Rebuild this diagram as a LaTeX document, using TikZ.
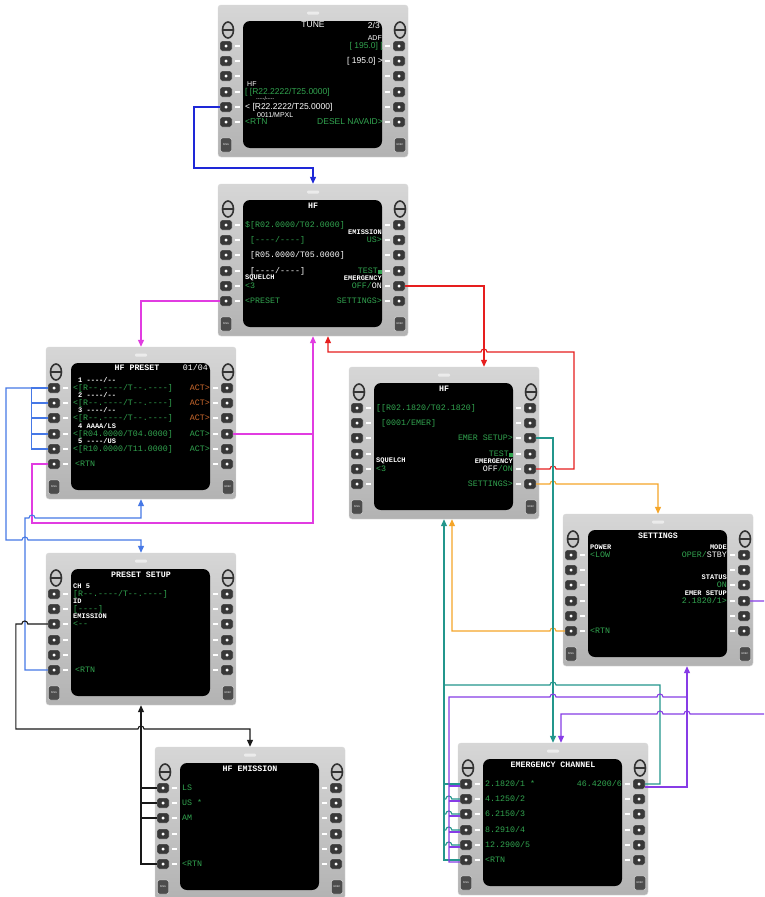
\documentclass[tikz,border=0pt]{standalone}
\usepackage{fontspec}
\newfontfamily\cdufont[Ligatures=TeXOff]{Liberation Mono}
\newfontfamily\tunefont[Ligatures=TeXOff]{Liberation Sans}
\usetikzlibrary{positioning, calc, arrows.meta}
\definecolor{scrgreen}{RGB}{50,165,80}
\definecolor{scrorange}{RGB}{205,105,45}
\definecolor{lnblue}{RGB}{30,40,215}
\definecolor{lnmag}{RGB}{225,60,225}
\definecolor{lnred}{RGB}{230,30,30}
\definecolor{lncorn}{RGB}{70,120,230}
\definecolor{lnblack}{RGB}{25,25,25}
\definecolor{lnorange}{RGB}{245,165,40}
\definecolor{lnteal}{RGB}{35,150,140}
\definecolor{lnpurple}{RGB}{135,60,230}
\tikzset{panel/.style={rectangle, rounded corners=3pt, minimum width=190pt, minimum height=152pt, inner sep=0, top color=gray!32, bottom color=gray!60, draw=gray!30}}
\tikzset{screen/.style={rectangle, rounded corners=7pt, minimum width=139pt, minimum height=127pt, inner sep=0, fill=black}}
\tikzset{lsk/.style={rectangle, rounded corners=2pt, minimum width=12pt, minimum height=10pt, inner sep=0, fill=black!78, draw=gray!20, path picture={\fill[white] ([xshift=-1.5pt,yshift=-1.5pt]path picture bounding box.center) rectangle ++(3pt,3pt);}}}
\tikzset{fkey/.style={rectangle, rounded corners=2pt, minimum width=11pt, minimum height=14pt, inner sep=0, fill=black!70, draw=gray!20, text=white, font=\sffamily\fontsize{2.6}{3}\selectfont}}
\tikzset{knob/.style={draw=black!80, fill=gray!45, line width=1.6pt}}
\tikzset{tick/.style={white, line width=1.2pt}}
\tikzset{dat/.style={inner sep=0, text=white, font=\cdufont\fontsize{8.3}{9}\selectfont}}
\tikzset{ttl/.style={dat, font=\cdufont\bfseries\fontsize{8.3}{9}\selectfont}}
\tikzset{lbl/.style={inner sep=0, text=white, font=\cdufont\bfseries\fontsize{7}{8}\selectfont}}
\tikzset{tdat/.style={inner sep=0, text=white, font=\tunefont\fontsize{8.5}{10}\selectfont}}
\tikzset{tlbl/.style={inner sep=0, text=white, font=\tunefont\fontsize{7}{8}\selectfont}}
\tikzset{gr/.style={text=scrgreen}, lt/.style={anchor=west}, rt/.style={anchor=east}}
\tikzset{wire/.style={line width=1.1pt}}
\tikzset{conn/.style={wire, -{Triangle[length=7pt, width=6pt]}}}
\tikzset{hopr/.style={insert path={arc[start angle=180, end angle=0, radius=3pt]}}}
\tikzset{hopl/.style={insert path={arc[start angle=0, end angle=180, radius=3pt]}}}
% one control display unit, origin at its top left corner
\tikzset{cdu/.pic={
	\node[panel] (-box) at (95,76) {};
	\fill[white, opacity=.55, rounded corners=1pt] (89,6.5) rectangle (101,9.5);
	\foreach \kx in {10,182} {\draw[knob] (\kx,25) ellipse [x radius=5.5pt, y radius=8pt] (\kx-5.5,25) -- (\kx+5.5,25);}
	\node[screen] (-scr) at (94.5,79.5) {};
	\foreach \r [count=\i] in {41,56,71,87,102,117} {
		\node[lsk] (-L\i) at (8,\r) {};
		\node[lsk] (-R\i) at (181,\r) {};
		\draw[tick] (17,\r) -- (22,\r) (167,\r) -- (172,\r);
	}
	\node[fkey] (-msg) at (8,140) {MSG};
	\node[fkey] (-exec) at (182,140) {EXEC};
}}

\begin{document}
\begin{tikzpicture}[x=1pt, y=-1pt]
	\useasboundingbox (0,0) rectangle (764,897);
	\clip (0,0) rectangle (764,897);
	\fill[white] (0,0) rectangle (764,897);
%
	\begin{scope}[shift={(218,5)}]
		\pic (tune) {cdu};
		\node[tdat] (tu1) at (95,20) {TUNE};
		\node[tdat, rt] (tu2) at (162,20) {2/3};
		\node[tlbl, rt] (tu3) at (164,33) {ADF};
		\node[tdat, rt, gr] (tu4) at (165,41) {[ 195.0] [};
		\node[tdat, rt] (tu5) at (165,56) {[ 195.0] >};
		\node[tlbl, lt] (tu6) at (29,79) {HF};
		\node[tdat, lt, gr] (tu7) at (27,87) {[ [R22.2222/T25.0000]};
		\node[tlbl, lt, font=\tunefont\fontsize{5}{6}\selectfont] (tu8) at (38,94) {-----/-----};
		\node[tdat, lt] (tu9) at (27,102) {< [R22.2222/T25.0000]};
		\node[tlbl, lt] (tu10) at (39,110) {0011/MPXL};
		\node[tdat, lt, gr] (tu11) at (27,117) {<RTN};
		\node[tdat, rt, gr] (tu12) at (165,117) {DESEL NAVAID>};
	\end{scope}
%
	\begin{scope}[shift={(218,184)}]
		\pic (hfmain) {cdu};
		\node[ttl] (hf1) at (95,22) {HF};
		\node[dat, lt, gr] (hf2) at (27,41) {\$[R02.0000/T02.0000]};
		\node[lbl, rt] (hf3) at (164,48) {EMISSION};
		\node[dat, lt, gr] (hf4) at (32,56) {[----/----]};
		\node[dat, rt, gr] (hf5) at (164,56) {US>};
		\node[dat, lt] (hf6) at (32,71) {[R05.0000/T05.0000]};
		\node[dat, lt] (hf7) at (32,87) {[----/----]};
		\node[dat, rt, gr] (hf8) at (164,87) {TEST\rule{4pt}{4pt}};
		\node[lbl, lt] (hf9) at (27,94) {SQUELCH};
		\node[dat, lt, gr] (hf10) at (27,102) {<3};
		\node[lbl, rt] (hf11) at (164,94) {EMERGENCY};
		\node[dat, rt] (hf12) at (164,102) {\textcolor{scrgreen}{OFF/}ON};
		\node[dat, lt, gr] (hf13) at (27,117) {<PRESET};
		\node[dat, rt, gr] (hf14) at (164,117) {SETTINGS>};
	\end{scope}
%
	\begin{scope}[shift={(46,347)}]
		\pic (hfpreset) {cdu};
		\node[ttl] (pr1) at (91,21) {HF PRESET};
		\node[dat, rt] (pr2) at (162,21) {01/04};
		\node[lbl, lt] (pr3) at (32,33) {1 ----/--};
		\node[dat, lt, gr] (pr4) at (27,41) {<[R--.----/T--.----]};
		\node[dat, rt, text=scrorange] (pr5) at (164,41) {ACT>};
		\node[lbl, lt] (pr6) at (32,48) {2 ----/--};
		\node[dat, lt, gr] (pr7) at (27,56) {<[R--.----/T--.----]};
		\node[dat, rt, text=scrorange] (pr8) at (164,56) {ACT>};
		\node[lbl, lt] (pr9) at (32,63) {3 ----/--};
		\node[dat, lt, gr] (pr10) at (27,71) {<[R--.----/T--.----]};
		\node[dat, rt, text=scrorange] (pr11) at (164,71) {ACT>};
		\node[lbl, lt] (pr12) at (32,79) {4 AAAA/LS};
		\node[dat, lt, gr] (pr13) at (27,87) {<[R04.0000/T04.0000]};
		\node[dat, rt, gr] (pr14) at (164,87) {ACT>};
		\node[lbl, lt] (pr15) at (32,94) {5 ----/US};
		\node[dat, lt, gr] (pr16) at (27,102) {<[R10.0000/T11.0000]};
		\node[dat, rt, gr] (pr17) at (164,102) {ACT>};
		\node[dat, lt, gr] (pr18) at (29,117) {<RTN};
	\end{scope}
%
	\begin{scope}[shift={(349,367)}]
		\pic (hfemer) {cdu};
		\node[ttl] (he1) at (95,22) {HF};
		\node[dat, lt, gr] (he2) at (27,41) {[[R02.1820/T02.1820]};
		\node[dat, lt, gr] (he3) at (32,56) {[0001/EMER]};
		\node[dat, rt, gr] (he4) at (164,71) {EMER SETUP>};
		\node[dat, rt, gr] (he5) at (164,87) {TEST\rule{4pt}{4pt}};
		\node[lbl, lt] (he6) at (27,94) {SQUELCH};
		\node[dat, lt, gr] (he7) at (27,102) {<3};
		\node[lbl, rt] (he8) at (164,94) {EMERGENCY};
		\node[dat, rt, gr] (he9) at (164,102) {\textcolor{white}{OFF}/ON};
		\node[dat, rt, gr] (he10) at (164,117) {SETTINGS>};
	\end{scope}
%
	\begin{scope}[shift={(46,553)}]
		\pic (presetsetup) {cdu};
		\node[ttl] (ps1) at (95,22) {PRESET SETUP};
		\node[lbl, lt] (ps2) at (27,33) {CH 5};
		\node[dat, lt, gr] (ps3) at (27,41) {[R--.----/T--.----]};
		\node[lbl, lt] (ps4) at (27,48) {ID};
		\node[dat, lt, gr] (ps5) at (27,56) {[----]};
		\node[lbl, lt] (ps6) at (27,63) {EMISSION};
		\node[dat, lt, gr] (ps7) at (27,71) {<--};
		\node[dat, lt, gr] (ps8) at (29,117) {<RTN};
	\end{scope}
%
	\begin{scope}[shift={(563,514)}]
		\pic (settings) {cdu};
		\node[ttl] (se1) at (95,22) {SETTINGS};
		\node[lbl, lt] (se2) at (27,33) {POWER};
		\node[dat, lt, gr] (se3) at (27,41) {<LOW};
		\node[lbl, rt] (se4) at (164,33) {MODE};
		\node[dat, rt, gr] (se5) at (164,41) {OPER/\textcolor{white}{STBY}};
		\node[lbl, rt] (se6) at (164,63) {STATUS};
		\node[dat, rt, gr] (se7) at (164,71) {ON};
		\node[lbl, rt] (se8) at (164,79) {EMER SETUP};
		\node[dat, rt, gr] (se9) at (164,87) {2.1820/1>};
		\node[dat, lt, gr] (se10) at (27,117) {<RTN};
	\end{scope}
%
	\begin{scope}[shift={(155,747)}]
		\pic (hfemission) {cdu};
		\node[ttl] (em1) at (95,22) {HF EMISSION};
		\node[dat, lt, gr] (em2) at (27,41) {LS};
		\node[dat, lt, gr] (em3) at (27,56) {US *};
		\node[dat, lt, gr] (em4) at (27,71) {AM};
		\node[dat, lt, gr] (em5) at (27,117) {<RTN};
	\end{scope}
%
	\begin{scope}[shift={(458,743)}]
		\pic (emerch) {cdu};
		\node[ttl] (ec1) at (95,22) {EMERGENCY CHANNEL};
		\node[dat, lt, gr] (ec2) at (27,41) {2.1820/1 *};
		\node[dat, lt, gr] (ec3) at (27,56) {4.1250/2};
		\node[dat, lt, gr] (ec4) at (27,71) {6.2150/3};
		\node[dat, lt, gr] (ec5) at (27,87) {8.2910/4};
		\node[dat, lt, gr] (ec6) at (27,102) {12.2900/5};
		\node[dat, lt, gr] (ec7) at (27,117) {<RTN};
		\node[dat, rt, gr] (ec8) at (164,41) {46.4200/6};
	\end{scope}
%
	% page links
	\draw[conn, lnblue] (tune-L5.west) -| (194,168) -| (hfmain-box.north);
	\draw[conn, lnmag] (hfmain-L6.west) -| (hfpreset-box.north);
	\draw[conn, lnmag] (hfpreset-R4.east) -| (hfmain-box.south);
	\coordinate (magjoin) at (313,434);
	\draw[wire, lnmag] (hfpreset-L6.west) -| (32,523) -| (magjoin);
	\draw[conn, lnred] (hfmain-R5.east) -| ([xshift=40pt]hfemer-box.north);
	\draw[conn, lnred] (hfemer-R5.east) -- (550,469) [hopr] -- (574,469) -- (574,352) -- (487,352) [hopl] -- (328,352) -- ([xshift=15pt]hfmain-box.south);
	\draw[conn, lnorange] (hfemer-R6.east) -- (550,484) [hopr] -| (settings-box.north);
	\draw[conn, lnorange] (settings-L6.west) -- (556,631) [hopl] -| ([xshift=8pt]hfemer-box.south);
%
	\draw[wire, lncorn] (hfpreset-L5.west) -- ++(-16,0) |- (hfpreset-L1.west);
	\foreach \i in {2,3,4} \draw[wire, lncorn] (hfpreset-L\i.west) -- ++(-16,0);
	\draw[conn, lncorn] (hfpreset-L1.west) -| (6,540) -- (22,540) [hopr] -| (presetsetup-box.north);
	\draw[conn, lncorn] (presetsetup-L6.west) -| (25,518) -- (29,518) [hopr] -| (hfpreset-box.south);
%
	\draw[conn, lnblack] (presetsetup-L3.west) -- ++(-20,0) [hopl] -- ++(-6,0) |- (138,729) [hopr] -| (hfemission-box.north);
	\draw[conn, lnblack] (hfemission-L6.west) -| (presetsetup-box.south);
	\foreach \i in {1,2,3} \draw[wire, lnblack] (hfemission-L\i.west) -- ++(-16,0);
%
	\draw[conn, lnteal] (hfemer-R3.east) -| (emerch-box.north);
	\draw[conn, lnteal] (emerch-L6.west) -| (hfemer-box.south);
	\draw[wire, lnteal] (emerch-L1.west) -- ++(-16,0);
	\foreach \i in {2,...,5} \draw[wire, lnteal] (emerch-L\i.west) -- ++(-8,0) [hopl] -- ++(-2,0);
	\draw[wire, lnteal] (emerch-R1.east) -- (660,784) -- (660,685) -- (556,685) [hopl] -- (444,685);
%
	\draw[conn, lnpurple] (settings-R4.east) -- (772,601) -- (772,714) -- (690,714) [hopl] -- (663,714) [hopl] -- (561,714) -- ([xshift=8pt]emerch-box.north);
	\draw[conn, lnpurple] ([yshift=-3pt]emerch-R1.east) -- (687,787) -- ([xshift=29pt]settings-box.south);
	\draw[wire, lnpurple] ([yshift=-2pt]emerch-L6.west) -| (449,697) -- (550,697) [hopr] -- (657,697) [hopr] -- (687,697);
	\foreach \i in {1,...,5} \draw[wire, lnpurple] ([yshift=-2pt]emerch-L\i.west) -- ++(-11,0);
\end{tikzpicture}
\end{document}
